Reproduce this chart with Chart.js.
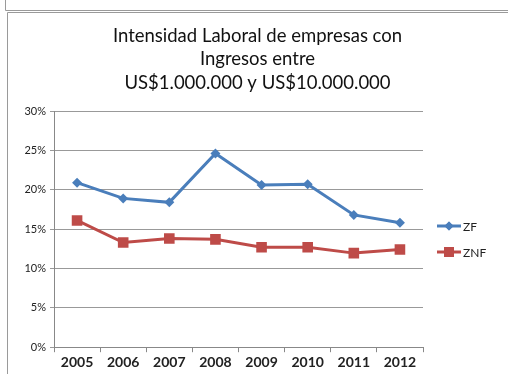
<!DOCTYPE html>
<html>
<head>
<meta charset="utf-8">
<title>Intensidad Laboral</title>
<script src="https://cdn.jsdelivr.net/npm/chart.js@4.4.1/dist/chart.umd.min.js"></script>
<style>
    html, body { margin: 0; padding: 0; background: #fff; }
    #wrap { position: relative; width: 508px; height: 374px; overflow: hidden; }
    #chart { position: absolute; left: 0; top: 0; }
</style>
</head>
<body>
<div id="wrap">
    <canvas id="chart" width="508" height="374"></canvas>
</div>
<script>
const anios = ['2005', '2006', '2007', '2008', '2009', '2010', '2011', '2012'];
const zf = [20.9, 18.9, 18.4, 24.6, 20.6, 20.7, 16.8, 15.8];
const znf = [16.1, 13.3, 13.8, 13.7, 12.7, 12.7, 11.95, 12.4];
const ticksY = [0, 5, 10, 15, 20, 25, 30];
const titulo = ['Intensidad Laboral de empresas con', 'Ingresos entre', 'US$1.000.000 y US$10.000.000'];

const azul = '#4A7EBB';
const rojo = '#BE4B48';
const fuente = 'Lato, "Open Sans", sans-serif';

// Marco del gráfico (y el borde del gráfico anterior)
const marco = {
    id: 'marco',
    beforeDraw(chart) {
        const ctx = chart.ctx;
        ctx.save();
        ctx.fillStyle = '#fff';
        ctx.fillRect(0, 0, chart.width, chart.height);
        ctx.strokeStyle = '#9a9a9a';
        ctx.lineWidth = 1;
        ctx.beginPath();
        ctx.moveTo(5.5, 0);
        ctx.lineTo(5.5, 10.5);
        ctx.lineTo(chart.width, 10.5);
        ctx.moveTo(7.5, chart.height);
        ctx.lineTo(7.5, 12.5);
        ctx.lineTo(chart.width, 12.5);
        ctx.stroke();
        ctx.restore();
    }
};

// Título centrado sobre todo el marco, no solo sobre el área del gráfico
const tituloCentrado = {
    id: 'tituloCentrado',
    afterDraw(chart) {
        const ctx = chart.ctx;
        const cx = (7 + chart.width) / 2;
        ctx.save();
        ctx.fillStyle = '#111';
        ctx.font = '18.5px ' + fuente;
        ctx.textAlign = 'center';
        ctx.textBaseline = 'middle';
        titulo.forEach((linea, i) => ctx.fillText(linea, cx, 36 + i * 23.5));
        ctx.restore();
    }
};

// Leyenda a la derecha: línea con marcador
const leyenda = {
    id: 'leyenda',
    afterDraw(chart) {
        const ctx = chart.ctx;
        const x0 = chart.chartArea.right + 14;
        const items = [
            { texto: 'ZF', color: azul, estilo: 'rectRot', r: 4.5, y: 226 },
            { texto: 'ZNF', color: rojo, estilo: 'rect', r: 7, y: 252 }
        ];
        ctx.save();
        items.forEach(it => {
            ctx.strokeStyle = it.color;
            ctx.lineWidth = 3;
            ctx.beginPath();
            ctx.moveTo(x0, it.y);
            ctx.lineTo(x0 + 24, it.y);
            ctx.stroke();
            ctx.fillStyle = it.color;
            Chart.helpers.drawPoint(ctx, { pointStyle: it.estilo, radius: it.r, borderWidth: 0 }, x0 + 12, it.y);
            ctx.fill();
            ctx.fillStyle = '#222';
            ctx.font = '12px ' + fuente;
            ctx.textBaseline = 'middle';
            ctx.fillText(it.texto, x0 + 26, it.y + 1);
        });
        ctx.restore();
    }
};

new Chart(document.getElementById('chart').getContext('2d'), {
    type: 'line',
    data: {
        labels: anios,
        datasets: [
            {
                label: 'ZF',
                data: zf,
                borderColor: azul,
                backgroundColor: azul,
                borderWidth: 3,
                pointStyle: 'rectRot',
                pointRadius: 5,
                pointBorderWidth: 0,
                tension: 0
            },
            {
                label: 'ZNF',
                data: znf,
                borderColor: rojo,
                backgroundColor: rojo,
                borderWidth: 3,
                pointStyle: 'rect',
                pointRadius: 7.5,
                pointBorderWidth: 0,
                tension: 0
            }
        ]
    },
    options: {
        responsive: false,
        animation: false,
        layout: { padding: { left: 8, right: 85, top: 111, bottom: 1 } },
        plugins: {
            legend: { display: false },
            tooltip: { enabled: false },
            title: { display: false }
        },
        scales: {
            x: {
                offset: true,
                grid: { display: true, drawOnChartArea: false, offset: true, tickLength: 5, color: '#888' },
                border: { color: '#888' },
                ticks: { color: '#222', font: { family: fuente, size: 14, weight: 'bold' }, padding: 2 }
            },
            y: {
                min: 0,
                max: 30,
                afterBuildTicks(scale) { scale.ticks = ticksY.map(v => ({ value: v })); },
                afterFit(scale) { scale.width = 46; },
                grid: { color: '#999', tickLength: 4 },
                border: { color: '#888' },
                ticks: {
                    color: '#222',
                    font: { family: fuente, size: 11 },
                    padding: 4,
                    callback: v => v + '%'
                }
            }
        }
    },
    plugins: [marco, tituloCentrado, leyenda]
});
</script>
</body>
</html>
